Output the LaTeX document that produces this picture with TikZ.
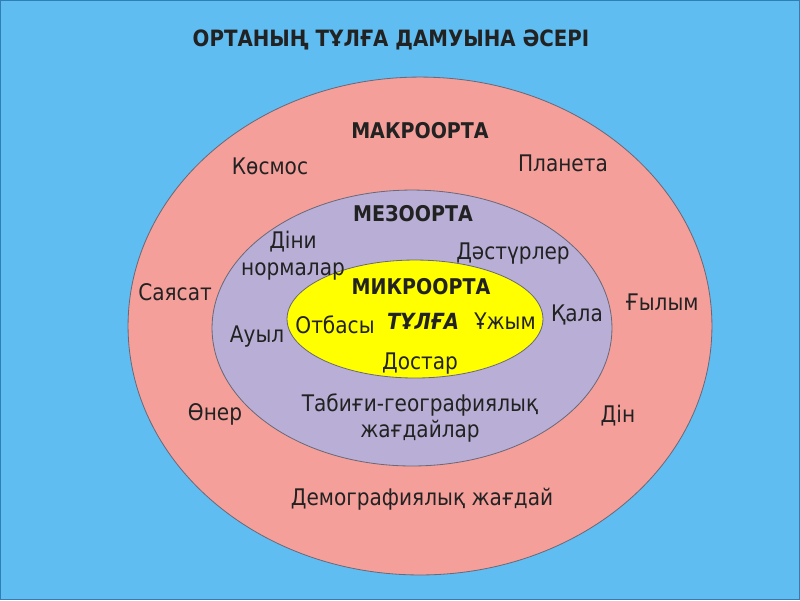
\documentclass[tikz,border=0pt]{standalone}
\usepackage{fontspec}
\setmainfont{DejaVu Sans}[FakeStretch=0.88]
\definecolor{bgblue}{HTML}{5FBDF1}
\definecolor{bgedge}{HTML}{2F7FB5}
\definecolor{macropink}{HTML}{F59F9A}
\definecolor{mesolilac}{HTML}{B9AFD6}
\definecolor{microyellow}{HTML}{FFFF00}
\definecolor{ringgray}{HTML}{6B6878}
\definecolor{inkdark}{HTML}{222222}

\begin{document}
\begin{tikzpicture}[x=0.03cm, y=-0.03cm,
    every node/.style={font=\fontsize{19.5}{23}\selectfont, text=inkdark,
                       align=center, inner sep=0pt},
    ring/.style={draw=ringgray, line width=0.7pt},
    head/.style={font=\fontsize{18.5}{22}\selectfont\bfseries}]
  % background and frame
  \fill[bgblue] (0,0) rectangle (800,600);
  \draw[bgedge, line width=1pt] (0.5,0.5) rectangle (799.5,599.5);
  \useasboundingbox (0,0) rectangle (800,600);

  % the three environments
  \draw[ring, fill=macropink] (420,326) ellipse [x radius=292, y radius=249];
  \draw[ring, fill=mesolilac] (412,328) ellipse [x radius=200, y radius=138];
  \draw[ring, fill=microyellow] (415,319) ellipse [x radius=128, y radius=59];

  \node[font=\fontsize{19.2}{24}\selectfont\bfseries] (title) at (391,40)
    {ОРТАНЫҢ ТҰЛҒА ДАМУЫНА ӘСЕРІ};

  % macro level
  \node[head] (macro) at (420,131) {МАКРООРТА};
  \node (kosmos) at (270,166) {Көсмос};
  \node (planeta) at (563,163) {Планета};
  \node (sayasat) at (175,292) {Саясат};
  \node (gylym) at (662,302) {Ғылым};
  \node (oner) at (215,414) {Өнер};
  \node (din) at (618,416) {Дін};
  \node (demo) at (422,499) {Демографиялық жағдай};

  % meso level
  \node[head] (meso) at (413,214) {МЕЗООРТА};
  \node (normalar) at (293,256) {Діни\\нормалар};
  \node (dasturler) at (513,254) {Дәстүрлер};
  \node (qala) at (577,315) {Қала};
  \node (auyl) at (257,337) {Ауыл};
  \node (tabigi) at (420,418) {Табиғи-географиялық\\жағдайлар};

  % micro level
  \node[head] (micro) at (421,287) {МИКРООРТА};
  \node (otbasy) at (335,325) {Отбасы};
  \node[font=\fontsize{19}{23}\selectfont\bfseries\itshape] (tulga) at (423,321) {ТҰЛҒА};
  \node (uzhym) at (505,321) {Ұжым};
  \node (dostar) at (420,364) {Достар};
\end{tikzpicture}
\end{document}
